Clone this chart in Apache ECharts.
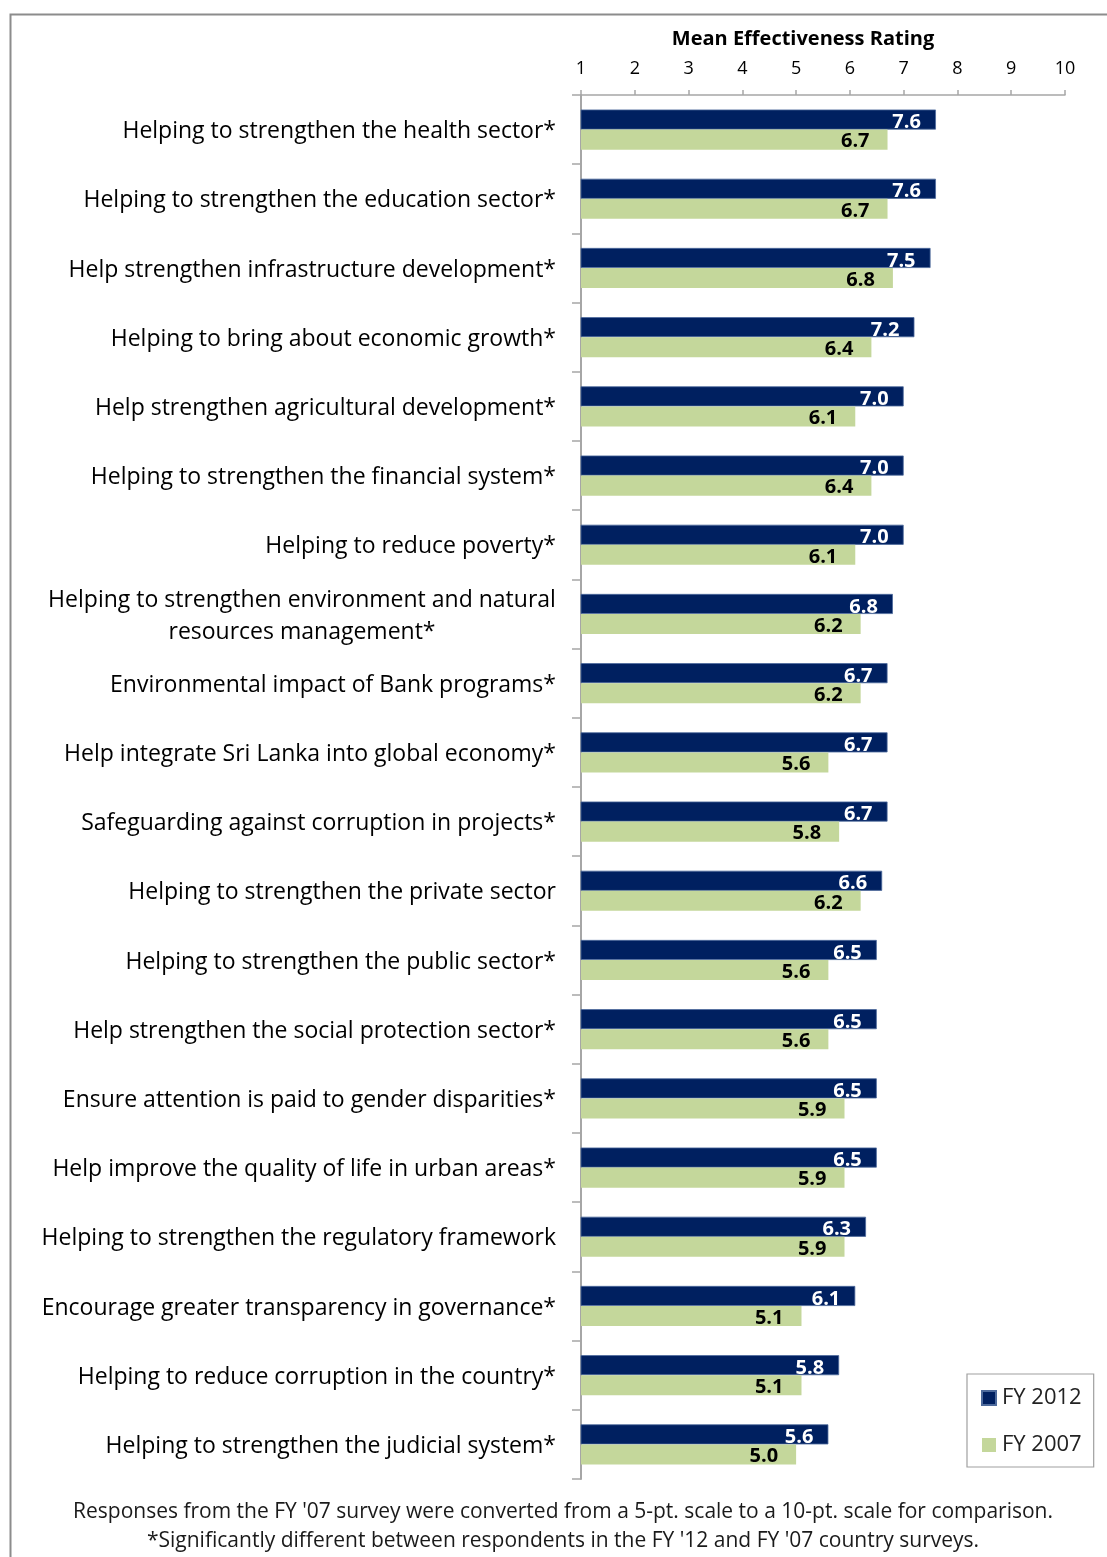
<!DOCTYPE html>
<html>
<head>
<meta charset="utf-8">
<script src="https://cdn.jsdelivr.net/npm/echarts@6/dist/echarts.min.js"></script>
<style>
  html, body { margin: 0; padding: 0; background: #fff; }
  #chart { width: 1107px; height: 1557px; }
</style>
</head>
<body>
<div id="chart"></div>
<script>
const categories = [
  "Helping to strengthen the health sector*",
  "Helping to strengthen the education sector*",
  "Help strengthen infrastructure development*",
  "Helping to bring about economic growth*",
  "Help strengthen agricultural development*",
  "Helping to strengthen the financial system*",
  "Helping to reduce poverty*",
  "Helping to strengthen environment and natural\nresources management*",
  "Environmental impact of Bank programs*",
  "Help integrate Sri Lanka into global economy*",
  "Safeguarding against corruption in projects*",
  "Helping to strengthen the private sector",
  "Helping to strengthen the public sector*",
  "Help strengthen the social protection sector*",
  "Ensure attention is paid to gender disparities*",
  "Help improve the quality of life in urban areas*",
  "Helping to strengthen the regulatory framework",
  "Encourage greater transparency in governance*",
  "Helping to reduce corruption in the country*",
  "Helping to strengthen the judicial system*"
];
const fy2012 = [7.6, 7.6, 7.5, 7.2, 7.0, 7.0, 7.0, 6.8, 6.7, 6.7, 6.7, 6.6, 6.5, 6.5, 6.5, 6.5, 6.3, 6.1, 5.8, 5.6];
const fy2007 = [6.7, 6.7, 6.8, 6.4, 6.1, 6.4, 6.1, 6.2, 6.2, 5.6, 5.8, 6.2, 5.6, 5.6, 5.9, 5.9, 5.9, 5.1, 5.1, 5.0];
const seriesNames = ["FY 2012", "FY 2007"];
const axisTitle = "Mean Effectiveness Rating";
const footnotes = [
  "Responses from the FY '07 survey were converted from a 5-pt. scale to a 10-pt. scale for comparison.",
  "*Significantly different between respondents in the FY '12 and FY '07 country surveys."
];

const FONT = "Open Sans";
const CAT_SIZE = 23;

// measure widest line of multi-line labels so lines can be centred within a right-aligned block
const measureCtx = document.createElement('canvas').getContext('2d');
measureCtx.font = CAT_SIZE + 'px "' + FONT + '"';
function maxLineWidth(text) {
  return Math.ceil(Math.max.apply(null, text.split('\n').map(function (s) { return measureCtx.measureText(s).width; })));
}

const chart = echarts.init(document.getElementById('chart'), null, { renderer: 'canvas' });

const option = {
  backgroundColor: '#ffffff',
  animation: false,
  textStyle: { fontFamily: FONT },
  grid: { left: 581, right: 42, top: 95, bottom: 78, containLabel: false },
  legend: {
    orient: 'vertical',
    left: 967,
    top: 1374,
    width: 131,
    padding: [12, 12, 10, 14],
    itemGap: 23,
    itemWidth: 14,
    itemHeight: 14,
    borderColor: '#a0a0a0',
    borderWidth: 1.2,
    data: seriesNames,
    textStyle: { fontFamily: FONT, fontSize: 22, color: '#222', lineHeight: 24, padding: [0, 0, 0, 1] },
    icon: 'rect'
  },
  xAxis: {
    type: 'value',
    position: 'top',
    min: 1,
    max: 10,
    interval: 1,
    name: axisTitle,
    nameLocation: 'middle',
    nameGap: 56,
    nameTextStyle: { fontFamily: FONT, fontWeight: 'bold', fontSize: 20, color: '#000', verticalAlign: 'middle', padding: [0, 40, 0, 0] },
    axisLine: { show: true, lineStyle: { color: '#a6a6a6', width: 1.5 } },
    axisTick: { show: true, length: 5, lineStyle: { color: '#a6a6a6', width: 1.5 } },
    axisLabel: { fontFamily: FONT, fontSize: 18, color: '#000', margin: 17 },
    splitLine: { show: false }
  },
  yAxis: {
    type: 'category',
    inverse: true,
    data: categories,
    axisLine: { show: true, lineStyle: { color: '#a6a6a6', width: 2 } },
    axisTick: { show: true, length: 9, interval: 0, lineStyle: { color: '#a6a6a6', width: 1.5 } },
    axisLabel: {
      interval: 0,
      margin: 25,
      fontFamily: FONT,
      fontSize: CAT_SIZE,
      color: '#000',
      lineHeight: 32,
      padding: [4, 0, 0, 0],
      formatter: function (v) {
        if (v.indexOf('\n') >= 0) {
          const w = maxLineWidth(v);
          return v.split('\n').map(function (s) { return '{c' + w + '|' + s + '}'; }).join('\n');
        }
        return v;
      },
      rich: (function () {
        const r = {};
        categories.forEach(function (c) {
          if (c.indexOf('\n') >= 0) {
            const w = maxLineWidth(c);
            r['c' + w] = { fontFamily: FONT, fontSize: CAT_SIZE, color: '#000', width: w, align: 'center', lineHeight: 32 };
          }
        });
        return r;
      })()
    }
  },
  series: [
    {
      name: seriesNames[0],
      type: 'bar',
      data: fy2012,
      barGap: '0%',
      barCategoryGap: '42%',
      itemStyle: { color: '#002060', borderColor: '#4d6a9c', borderWidth: 0.8 },
      label: {
        show: true,
        position: 'insideRight',
        distance: 15,
        offset: [0, 3],
        color: '#ffffff',
        fontFamily: FONT,
        fontWeight: 'bold',
        fontSize: 20,
        formatter: function (p) { return p.value.toFixed(1); }
      }
    },
    {
      name: seriesNames[1],
      type: 'bar',
      data: fy2007,
      itemStyle: { color: '#c4d79b' },
      label: {
        show: true,
        position: 'insideRight',
        distance: 18,
        offset: [0, 2],
        color: '#000000',
        fontFamily: FONT,
        fontWeight: 'bold',
        fontSize: 20,
        formatter: function (p) { return p.value.toFixed(1); }
      }
    }
  ],
  graphic: [
    {
      type: 'rect',
      left: 8, top: 12,
      shape: { x: 0, y: 0, width: 1200, height: 1700 },
      style: { fill: 'none', stroke: '#8c8c8c', lineWidth: 2 },
      silent: true
    },
    {
      type: 'text',
      x: 563, y: 1512,
      style: { text: footnotes[0], fontFamily: FONT, fontSize: 21, fill: '#1a1a1a', align: 'center', verticalAlign: 'middle' }
    },
    {
      type: 'text',
      x: 563, y: 1541,
      style: { text: footnotes[1], fontFamily: FONT, fontSize: 21, fill: '#1a1a1a', align: 'center', verticalAlign: 'middle' }
    }
  ]
};
chart.setOption(option);
</script>
</body>
</html>
